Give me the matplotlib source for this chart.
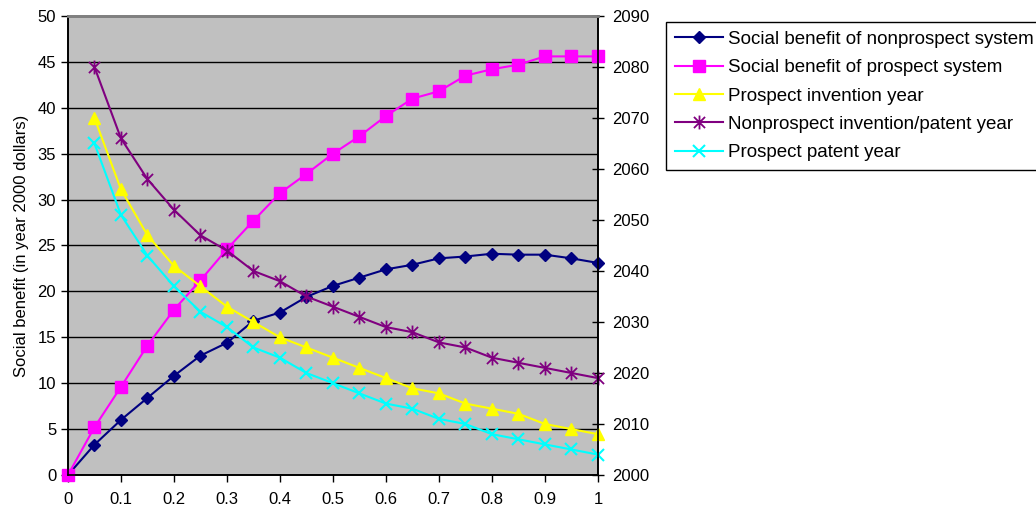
import numpy as np
import matplotlib.pyplot as plt
from matplotlib.path import Path

plt.rcParams['font.family'] = ['Liberation Sans', 'DejaVu Sans']

# share of inventions (x axis)
share = [0, 0.05, 0.1, 0.15, 0.2, 0.25, 0.3, 0.35, 0.4, 0.45, 0.5,
         0.55, 0.6, 0.65, 0.7, 0.75, 0.8, 0.85, 0.9, 0.95, 1.0]
share_yr = share[1:]

# social benefit, left axis
benefit_nonprospect = [0, 3.3, 6.0, 8.4, 10.8, 13.0, 14.4, 16.8, 17.7, 19.4, 20.6,
                       21.5, 22.4, 22.9, 23.6, 23.8, 24.1, 24.0, 24.0, 23.6, 23.1]
benefit_prospect = [0, 5.2, 9.6, 14.1, 18.0, 21.2, 24.6, 27.7, 30.7, 32.8, 35.0,
                    36.9, 39.1, 41.0, 41.8, 43.5, 44.2, 44.7, 45.6, 45.6, 45.6]

# years, right axis
prospect_invention_yr = [2070, 2056, 2047, 2041, 2037, 2033, 2030, 2027, 2025, 2023,
                         2021, 2019, 2017, 2016, 2014, 2013, 2012, 2010, 2009, 2008]
nonprospect_yr = [2080, 2066, 2058, 2052, 2047, 2044, 2040, 2038, 2035, 2033,
                  2031, 2029, 2028, 2026, 2025, 2023, 2022, 2021, 2020, 2019]
prospect_patent_yr = [2065, 2051, 2043, 2037, 2032, 2029, 2025, 2023, 2020, 2018,
                      2016, 2014, 2013, 2011, 2010, 2008, 2007, 2006, 2005, 2004]

# asterisk marker like the spreadsheet one
star = Path([(0, -1), (0, 1), (-0.8, -0.8), (0.8, 0.8), (-0.8, 0.8), (0.8, -0.8)],
            [Path.MOVETO, Path.LINETO, Path.MOVETO, Path.LINETO, Path.MOVETO, Path.LINETO])

fig = plt.figure(figsize=(10.36, 5.08), dpi=100)
ax = fig.add_axes([0.0656, 0.065, 0.5115, 0.9035])
ax.set_facecolor('#c0c0c0')
ax2 = ax.twinx()

l1, = ax.plot(share, benefit_nonprospect, color='#000080', marker='D', ms=6, lw=1.5,
              label='Social benefit of nonprospect system', clip_on=False, zorder=3)
l2, = ax.plot(share, benefit_prospect, color='#ff00ff', marker='s', ms=8, lw=1.5,
              label='Social benefit of prospect system', clip_on=False, zorder=3)
l3, = ax2.plot(share_yr, prospect_invention_yr, color='#ffff00', marker='^', ms=9, lw=1.5,
               label='Prospect invention year', clip_on=False)
l4, = ax2.plot(share_yr, nonprospect_yr, color='#800080', marker=star, ms=10, mew=1.3, lw=1.5,
               label='Nonprospect invention/patent year', clip_on=False)
l5, = ax2.plot(share_yr, prospect_patent_yr, color='#00ffff', marker='x', ms=8, mew=1.5, lw=1.5,
               label='Prospect patent year', clip_on=False)

ax.set_xlim(0, 1)
ax.set_ylim(0, 50)
ax2.set_ylim(2000, 2090)
ax.set_xticks(np.arange(0, 1.01, 0.1))
ax.set_xticklabels(['0', '0.1', '0.2', '0.3', '0.4', '0.5', '0.6', '0.7', '0.8', '0.9', '1'])
ax.set_yticks(np.arange(0, 51, 5))
ax2.set_yticks(np.arange(2000, 2091, 10))
ax.yaxis.grid(True, color='black', lw=1)
ax.set_axisbelow(True)

for a in (ax, ax2):
    a.tick_params(labelsize=12, length=5, width=1, color='black')
    a.spines['top'].set_color('#808080')
    a.spines['top'].set_linewidth(2)
    a.spines['left'].set_linewidth(1.2)
    a.spines['right'].set_linewidth(1.2)
    a.spines['bottom'].set_linewidth(1.2)
ax2.tick_params(axis='y', direction='inout', length=8, pad=6)
ax.tick_params(axis='x', pad=7)

ax.set_ylabel('Social benefit (in year 2000 dollars)', fontsize=12, labelpad=6)

leg = fig.legend(handles=[l1, l2, l3, l4, l5], loc='upper left',
                 bbox_to_anchor=(0.643, 0.956), fontsize=13.5, frameon=True,
                 fancybox=False, edgecolor='black', framealpha=1,
                 handlelength=2.6, handletextpad=0.25, borderpad=0.45,
                 labelspacing=0.6, borderaxespad=0)
leg.get_frame().set_linewidth(1)

fig.savefig('out.png', dpi=100)
